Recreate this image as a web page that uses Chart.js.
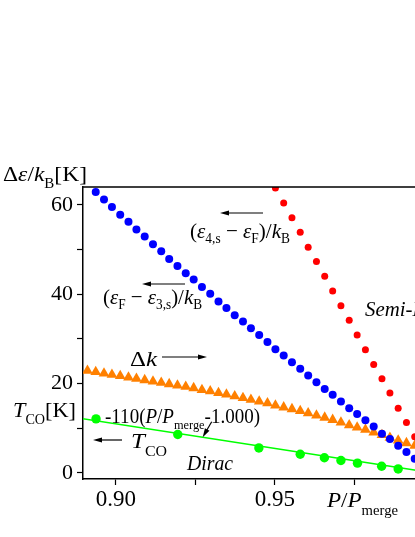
<!DOCTYPE html>
<html>
<head>
<meta charset="utf-8">
<script src="https://cdn.jsdelivr.net/npm/chart.js@4.4.1/dist/chart.umd.min.js"></script>
<style>
  html, body { margin: 0; padding: 0; overflow: hidden; background: #fff; }
  #wrap { position: absolute; left: 0; top: 0; width: 440px; height: 537px; }
</style>
</head>
<body>
<div id="wrap"><canvas id="chart"></canvas></div>
<script>
// P/P_merge positions of the evenly spaced calculation points (index -1 .. 39)
const pGrid = [0.8911, 0.8937, 0.8963, 0.8988, 0.9014, 0.9040, 0.9065, 0.9091, 0.9117, 0.9143,
  0.9168, 0.9194, 0.9220, 0.9245, 0.9271, 0.9297, 0.9323, 0.9348, 0.9374, 0.9400,
  0.9425, 0.9451, 0.9477, 0.9502, 0.9528, 0.9554, 0.9580, 0.9605, 0.9631, 0.9657,
  0.9682, 0.9708, 0.9734, 0.9759, 0.9785, 0.9811, 0.9837, 0.9862, 0.9888, 0.9914, 0.9940];

// (eF - e3,s)/kB, blue, starts at pGrid[1]
const gapBlue = [62.9, 61.2, 59.5, 57.8, 56.2, 54.5, 52.9, 51.2, 49.6, 47.9,
  46.3, 44.7, 43.3, 41.6, 40.1, 38.4, 36.9, 35.3, 33.9, 32.4,
  30.9, 29.3, 27.7, 26.3, 24.8, 23.3, 21.8, 20.3, 18.8, 17.5,
  16.0, 14.5, 13.2, 11.8, 10.4, 8.8, 7.6, 6.1, 4.7, 3.2];

// (e4,s - eF)/kB, red, starts at pGrid[23]
const gapRed = [63.8, 60.4, 57.1, 53.9, 50.5, 47.3, 44.0, 40.7, 37.4, 34.2,
  30.9, 27.6, 24.3, 21.1, 17.9, 14.5, 11.3, 8.1];

// Delta k, orange triangles, starts at pGrid[0]
const deltaK = [22.9, 22.6, 22.3, 22.0, 21.7, 21.4, 21.1, 20.8, 20.5, 20.2,
  19.9, 19.6, 19.3, 19.0, 18.6, 18.3, 17.9, 17.6, 17.2, 16.8,
  16.4, 16.0, 15.6, 15.1, 14.7, 14.3, 13.9, 13.4, 12.9, 12.4,
  11.9, 11.3, 10.7, 10.2, 9.7, 9.1, 8.5, 7.9, 7.3, 6.7, 6.1];

// T_CO, green points
const pGreen = [0.8938, 0.9195, 0.9450, 0.9580, 0.9656, 0.9708, 0.9760, 0.9836, 0.9888];
const tcoGreen = [12.1, 8.6, 5.6, 4.2, 3.4, 2.8, 2.2, 1.5, 0.9];

// fit line -110(P/Pmerge - 1.000)
const fitP = [0.885, 1.0];
const fitT = [12.65, 0];

const xTicks = [0.90, 0.925, 0.95, 0.975];
const xTickLabels = ['0.90', '', '0.95', ''];
const yTicks = [0, 10, 20, 30, 40, 50, 60];
const yTickLabels = ['0', '', '20', '', '40', '', '60'];

const SERIF = '"Liberation Serif", "Times New Roman", serif';

const pts = (xs, ys, offset) => ys.map((y, i) => ({ x: xs[i + offset], y }));

// draw a run of text pieces (italic / subscript), squeezed to a given width
function drawRuns(ctx, x, y, runs, width) {
  const fontOf = r => (r.i ? 'italic ' : '') + (r.s || 21) + 'px ' + SERIF;
  let total = 0;
  runs.forEach(r => { ctx.font = fontOf(r); total += ctx.measureText(r.t).width; });
  const sx = width ? width / total : 1;
  ctx.save();
  ctx.translate(x, y);
  ctx.scale(sx, 1);
  ctx.fillStyle = '#000';
  ctx.textBaseline = 'alphabetic';
  ctx.textAlign = 'left';
  let cx = 0;
  runs.forEach(r => {
    ctx.font = fontOf(r);
    ctx.fillText(r.t, cx, r.dy || 0);
    cx += ctx.measureText(r.t).width;
  });
  ctx.restore();
}

function arrow(ctx, x1, y1, x2, y2) {
  const a = Math.atan2(y2 - y1, x2 - x1);
  const len = 9, hw = 2.6;
  ctx.save();
  ctx.strokeStyle = '#000';
  ctx.fillStyle = '#000';
  ctx.lineWidth = 1.2;
  ctx.beginPath();
  ctx.moveTo(x1, y1);
  ctx.lineTo(x2 - Math.cos(a) * len * 0.8, y2 - Math.sin(a) * len * 0.8);
  ctx.stroke();
  ctx.beginPath();
  ctx.moveTo(x2, y2);
  ctx.lineTo(x2 - Math.cos(a) * len - Math.sin(a) * hw, y2 - Math.sin(a) * len + Math.cos(a) * hw);
  ctx.lineTo(x2 - Math.cos(a) * len + Math.sin(a) * hw, y2 - Math.sin(a) * len - Math.cos(a) * hw);
  ctx.closePath();
  ctx.fill();
  ctx.restore();
}

const annotations = {
  id: 'annotations',
  afterDraw(chart) {
    const ctx = chart.ctx;
    const a = chart.chartArea;

    // frame top / right
    ctx.save();
    ctx.strokeStyle = '#000';
    ctx.lineWidth = 1.5;
    ctx.beginPath();
    ctx.moveTo(a.left, a.top);
    ctx.lineTo(a.right, a.top);
    ctx.lineTo(a.right, a.bottom);
    ctx.stroke();
    ctx.restore();

    drawRuns(ctx, 3, 181, [{ t: 'Δ', s: 22 }, { t: 'ε', s: 22, i: 1 }, { t: '/', s: 22 },
      { t: 'k', s: 22, i: 1 }, { t: 'B', s: 14, dy: 7 }, { t: '[K]', s: 22 }], 84);
    drawRuns(ctx, 13, 417, [{ t: 'T', s: 22, i: 1 }, { t: 'CO', s: 14, dy: 7 }, { t: '[K]', s: 22 }], 63);

    drawRuns(ctx, 190, 238, [{ t: '(', s: 22 }, { t: 'ε', s: 22, i: 1 }, { t: '4,s', s: 14, dy: 5 }, { t: ' − ', s: 22 },
      { t: 'ε', s: 22, i: 1 }, { t: 'F', s: 14, dy: 5 }, { t: ')/', s: 22 }, { t: 'k', s: 22, i: 1 }, { t: 'B', s: 14, dy: 5 }], 100);
    arrow(ctx, 263, 213, 220, 213);

    drawRuns(ctx, 103, 304, [{ t: '(', s: 22 }, { t: 'ε', s: 22, i: 1 }, { t: 'F', s: 14, dy: 5 }, { t: ' − ', s: 22 },
      { t: 'ε', s: 22, i: 1 }, { t: '3,s', s: 14, dy: 5 }, { t: ')/', s: 22 }, { t: 'k', s: 22, i: 1 }, { t: 'B', s: 14, dy: 5 }], 99);
    arrow(ctx, 185, 284, 142, 284);

    drawRuns(ctx, 130, 366, [{ t: 'Δ', s: 22 }, { t: 'k', s: 22, i: 1 }], 27);
    arrow(ctx, 162, 357, 207, 357);

    drawRuns(ctx, 105, 423, [{ t: '-110(', s: 20 }, { t: 'P', s: 20, i: 1 }, { t: '/', s: 20 },
      { t: 'P', s: 20, i: 1 }, { t: 'merge', s: 13, dy: 6 }, { t: '-1.000)', s: 20 }], 155);
    arrow(ctx, 211.7, 421.7, 202.7, 437.3);

    drawRuns(ctx, 131, 448, [{ t: 'T', s: 22, i: 1 }, { t: 'CO', s: 14, dy: 8 }], 36);
    arrow(ctx, 122, 440, 93, 440);

    drawRuns(ctx, 187, 470, [{ t: 'Dirac', s: 20, i: 1 }], 46);
    drawRuns(ctx, 365, 316, [{ t: 'Semi-Dirac', s: 20, i: 1 }], 96);

    drawRuns(ctx, 327, 507, [{ t: 'P', s: 22, i: 1 }, { t: '/', s: 22 }, { t: 'P', s: 22, i: 1 },
      { t: 'merge', s: 14, dy: 8 }], 71);
  }
};

new Chart(document.getElementById('chart'), {
  type: 'scatter',
  data: {
    datasets: [
      {
        label: 'eF - e3s',
        data: pts(pGrid, gapBlue, 1),
        backgroundColor: '#0000ff',
        borderWidth: 0,
        pointRadius: 4,
        showLine: false,
      },
      {
        label: 'e4s - eF',
        data: pts(pGrid, gapRed, 23),
        backgroundColor: '#ff0000',
        borderWidth: 0,
        pointRadius: 3.5,
        showLine: false,
      },
      {
        label: 'TCO',
        data: pts(pGreen, tcoGreen, 0),
        backgroundColor: '#00ff00',
        borderWidth: 0,
        pointRadius: 4.7,
        showLine: false,
      },
      {
        label: 'fit',
        data: pts(fitP, fitT, 0),
        borderColor: '#00ff00',
        borderWidth: 1.5,
        pointRadius: 0,
        showLine: true,
      },
      {
        label: 'dk',
        data: pts(pGrid, deltaK, 0),
        backgroundColor: '#ff8000',
        borderWidth: 0,
        pointStyle: 'triangle',
        pointRadius: 6.2,
        showLine: false,
      },
    ],
  },
  options: {
    responsive: true,
    maintainAspectRatio: false,
    animation: false,
    layout: { padding: { top: 187, right: 2, bottom: 0, left: 0 } },
    plugins: { legend: { display: false }, tooltip: { enabled: false } },
    scales: {
      x: {
        type: 'linear',
        min: 0.8897,
        max: 1.0,
        afterBuildTicks: s => { s.ticks = xTicks.map(v => ({ value: v })); },
        afterFit: s => { s.height = 58; s.paddingLeft = 0; s.paddingRight = 0; },
        ticks: {
          autoSkip: false,
          maxRotation: 0,
          padding: 1,
          color: '#000',
          font: { family: SERIF, size: 23 },
          callback: (v, i) => xTickLabels[i],
        },
        grid: { drawOnChartArea: false, drawTicks: true, tickLength: 6, tickColor: '#000', tickWidth: 1.2 },
        border: { color: '#000', width: 1.5 },
      },
      y: {
        min: -1.35,
        max: 64,
        afterBuildTicks: s => { s.ticks = yTicks.map(v => ({ value: v })); },
        afterFit: s => { s.width = 83; s.paddingTop = 0; s.paddingBottom = 0; },
        ticks: {
          autoSkip: false,
          padding: 4,
          color: '#000',
          font: { family: SERIF, size: 22 },
          callback: (v, i) => yTickLabels[i],
        },
        grid: { drawOnChartArea: false, drawTicks: true, tickLength: 6, tickColor: '#000', tickWidth: 1.2 },
        border: { color: '#000', width: 1.5 },
      },
    },
  },
  plugins: [annotations],
});
</script>
</body>
</html>
